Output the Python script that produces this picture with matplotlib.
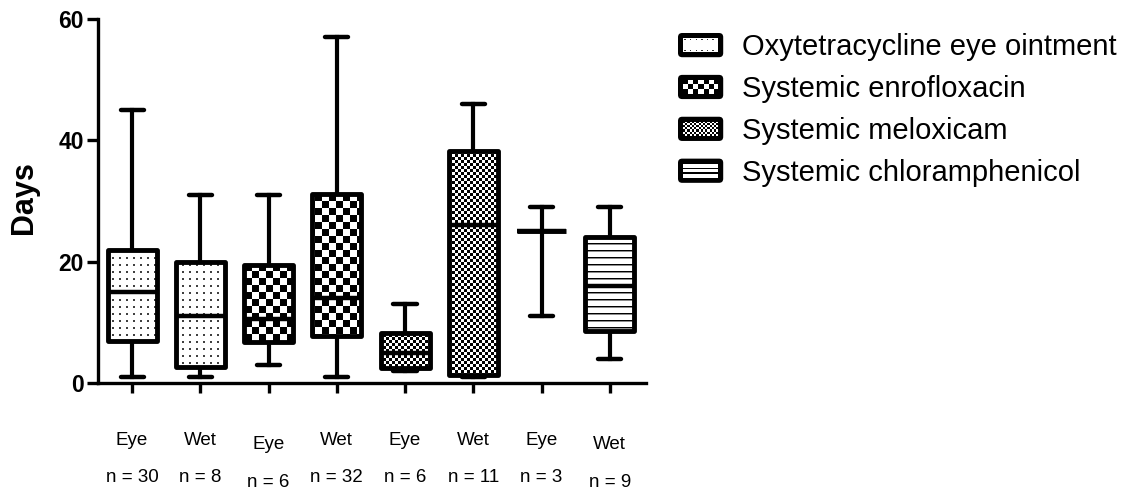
import numpy as np
import matplotlib
matplotlib.use("Agg")
import matplotlib.pyplot as plt
from matplotlib.patches import Rectangle, FancyBboxPatch, Patch
from matplotlib.legend_handler import HandlerBase

plt.rcParams['font.family'] = ['Liberation Sans', 'DejaVu Sans']

# ---------------- data ----------------
treatments = ["Oxytetracycline eye ointment", "Systemic enrofloxacin",
              "Systemic meloxicam", "Systemic chloramphenicol"]
groups = ["Eye", "Wet", "Eye", "Wet", "Eye", "Wet", "Eye", "Wet"]
n_values = [30, 8, 6, 32, 6, 11, 3, 9]
box_treatment = [0, 0, 1, 1, 2, 2, 3, 3]
whis_lo = [1, 1, 3, 1, 2, 1, 11, 4]
q1_vals = [7.0, 2.7, 6.8, 7.8, 2.5, 1.4, 25, 8.5]
medians = [15, 11, 10.5, 14, 5, 26, 25, 16]
q3_vals = [22, 20, 19.5, 31.2, 8.2, 38.2, 25, 24]
whis_hi = [45, 31, 31, 57, 13, 46, 29, 29]
y_ticks = [0, 20, 40, 60]

pattern_kinds = ["dots", "checker", "finechecker", "hlines"]

# ---------------- figure ----------------
W, H = 1137, 497
fig = plt.figure(figsize=(W / 100, H / 100), dpi=100)
ax_l, ax_r, ax_t, ax_b = 98, 646, 19, 383
ax = fig.add_axes([ax_l / W, 1 - ax_b / H, (ax_r - ax_l) / W, (ax_b - ax_t) / H])

positions = np.arange(1, len(groups) + 1)
stats = []
for i in range(len(groups)):
    stats.append(dict(med=medians[i], q1=q1_vals[i], q3=q3_vals[i],
                      whislo=whis_lo[i], whishi=whis_hi[i], fliers=[]))

art = ax.bxp(stats, positions=positions, widths=0.72, capwidths=0.34,
             patch_artist=True, showfliers=False, manage_ticks=False,
             boxprops=dict(facecolor='none', edgecolor='black', linewidth=3.5,
                           joinstyle='round'),
             whiskerprops=dict(color='black', linewidth=3.0),
             capprops=dict(color='black', linewidth=3.2, solid_capstyle='round'),
             medianprops=dict(color='black', linewidth=3.2))
for b in art['boxes']:
    b.set_zorder(3)
for m in art['medians']:
    m.set_zorder(4)

# ---------------- fill patterns (pixel textures clipped to the boxes) ----
PW, PH = ax_r - ax_l, ax_b - ax_t
yy, xx = np.mgrid[0:PH, 0:PW]


def make_pattern(kind):
    arr = np.ones((PH, PW))
    if kind == "dots":
        mask = ((yy % 7) < 2) & ((xx % 7) < 2)
        arr[mask] = 0.25
    elif kind == "checker":
        arr = (((yy // 7) + (xx // 7)) % 2).astype(float)
    elif kind == "finechecker":
        arr = (((yy // 3) + (xx // 3)) % 2).astype(float)
    elif kind == "hlines":
        arr[(yy % 7) == 0] = 0.0
        arr[(yy % 7) == 1] = 0.55
    return arr


patterns = {k: make_pattern(k) for k in pattern_kinds}
for i, box in enumerate(art['boxes']):
    kind = pattern_kinds[box_treatment[i]]
    ax.imshow(patterns[kind], cmap='gray', vmin=0, vmax=1, extent=(0, 1, 0, 1),
              transform=ax.transAxes, interpolation='nearest', aspect='auto',
              origin='upper', zorder=2, clip_path=box)

# ---------------- axes styling ----------------
ax.set_xlim(0.5, 8.53)
ax.set_ylim(0, 60)
ax.set_yticks(y_ticks)
ax.set_yticklabels([str(v) for v in y_ticks], fontsize=16.5, fontweight='bold')
ax.set_xticks(positions)
ax.set_xticklabels([f"{g}\nn = {n}" for g, n in zip(groups, n_values)],
                   fontsize=13.5, linespacing=2.55)
for s in ['top', 'right']:
    ax.spines[s].set_visible(False)
for s in ['left', 'bottom']:
    ax.spines[s].set_linewidth(2.4)
ax.tick_params(axis='y', length=8, width=2.4, pad=2)
ax.tick_params(axis='x', length=7, width=2.4, pad=28)
ticks = ax.xaxis.get_major_ticks()
for idx in (2, 7):
    ticks[idx].set_pad(31.5)

ax.set_ylabel("Days", fontsize=22, fontweight='bold')
ax.yaxis.set_label_coords((39 - ax_l) / PW, 0.51)


# ---------------- legend with patterned swatches ----------------
class PatternHandler(HandlerBase):
    def __init__(self, kind):
        super().__init__()
        self.kind = kind

    def create_artists(self, legend, orig_handle, xdescent, ydescent,
                       width, height, fontsize, trans):
        x0, y0 = -xdescent, -ydescent
        bw = 3.6
        arts = []
        # black rounded swatch
        arts.append(FancyBboxPatch((x0, y0), width, height,
                                   boxstyle="round,pad=0,rounding_size=3",
                                   fc='black', ec='none', transform=trans))
        ix0, iy0 = x0 + bw, y0 + bw
        iw, ih = width - 2 * bw, height - 2 * bw
        arts.append(Rectangle((ix0, iy0), iw, ih, fc='white', ec='none',
                              transform=trans))

        def add(x, y, w, h, c='black'):
            xa, ya = max(x, ix0), max(y, iy0)
            xb, yb = min(x + w, ix0 + iw), min(y + h, iy0 + ih)
            if xb > xa and yb > ya:
                arts.append(Rectangle((xa, ya), xb - xa, yb - ya, fc=c,
                                      ec='none', transform=trans))

        k = self.kind
        if k == "dots":
            for yv in (iy0 + 0.6, iy0 + ih - 1.6):
                xv = ix0 + 1.0
                while xv < ix0 + iw:
                    add(xv, yv, 1.1, 1.1, '0.2')
                    xv += 4.0
        elif k in ("checker", "finechecker"):
            c = 3.7 if k == "checker" else 1.6
            ny = int(np.ceil(ih / c))
            nx = int(np.ceil(iw / c))
            for r in range(ny):
                for q in range(nx):
                    if (r + q) % 2 == 0:
                        add(ix0 + q * c, iy0 + r * c, c, c)
        elif k == "hlines":
            for frac in (1 / 3, 2 / 3):
                add(ix0, iy0 + ih * frac - 0.6, iw, 1.2)
        return arts


handles = [Patch(label=t) for t in treatments]
hmap = {h: PatternHandler(k) for h, k in zip(handles, pattern_kinds)}
fig.legend(handles=handles, handler_map=hmap, loc='upper left',
           bbox_to_anchor=(678 / W, 1 - 33 / H), bbox_transform=fig.transFigure,
           frameon=False, fontsize=21, borderpad=0, borderaxespad=0,
           handlelength=1.55, handleheight=0.9, handletextpad=0.65,
           labelspacing=0.47)

fig.savefig("out.png", dpi=100)
